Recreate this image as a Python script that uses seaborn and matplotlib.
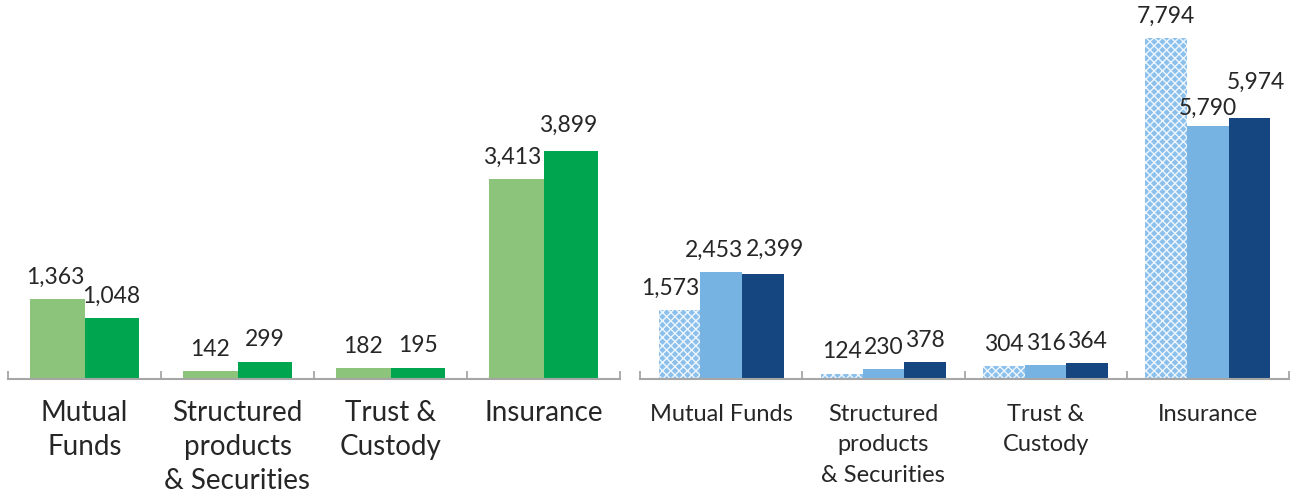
import matplotlib
matplotlib.use("Agg")
import matplotlib.pyplot as plt
import seaborn as sns
import pandas as pd

# ---- data ----
left_categories = ["Mutual\nFunds", "Structured\nproducts\n& Securities", "Trust &\nCustody", "Insurance"]
left_series = ["A", "B"]
left_a = [1363, 142, 182, 3413]
left_b = [1048, 299, 195, 3899]

right_categories = ["Mutual Funds", "Structured\nproducts\n& Securities", "Trust &\nCustody", "Insurance"]
right_series = ["A", "B", "C"]
right_a = [1573, 124, 304, 7794]
right_b = [2453, 230, 316, 5790]
right_c = [2399, 378, 364, 5974]

# label nudges (pixels) to mimic the reference's hand-placed labels
nudges = {
    ("L", 0, 0): (-2, 0), ("L", 0, 3): (-4, 0), ("L", 1, 3): (-3, 4),
    ("R", 0, 0): (-9, 0), ("R", 1, 0): (-7, 0), ("R", 2, 0): (12, 3),
    ("R", 1, 3): (0, -4), ("R", 2, 3): (6, 14),
}

sns.set_theme(style="white")
plt.rcParams['font.family'] = ['Lato', 'DejaVu Sans']
TXT = '#262626'

left_df = pd.DataFrame({
    "cat": left_categories * 2,
    "series": [s for s in left_series for _ in left_categories],
    "value": left_a + left_b,
})
right_df = pd.DataFrame({
    "cat": right_categories * 3,
    "series": [s for s in right_series for _ in right_categories],
    "value": right_a + right_b + right_c,
})

fig = plt.figure(figsize=(12.94, 4.90), dpi=100)
axL = fig.add_axes([8/1294, 111/490, 612/1294, 379/490])
axR = fig.add_axes([640/1294, 111/490, 649/1294, 379/490])

sns.barplot(data=left_df, x="cat", y="value", hue="series", ax=axL,
            palette=["#8dc47b", "#00a54f"], width=0.71, legend=False,
            saturation=1, errorbar=None, linewidth=0)
sns.barplot(data=right_df, x="cat", y="value", hue="series", ax=axR,
            palette=["#8cc0ec", "#76b3e2", "#15467f"], width=0.77, legend=False,
            saturation=1, errorbar=None, linewidth=0)

plt.rcParams['hatch.linewidth'] = 0.8
for p in axR.containers[0]:
    p.set_hatch('xxxx')
    p.set_edgecolor('#eef6fd')
    p.set_linewidth(0)

for key, ax, ymax, fs, pad, ls in [("L", axL, 6481, 20, 15, 1.38),
                                   ("R", axR, 8663, 17, 18, 1.55)]:
    ax.set_ylim(0, ymax)
    ax.set_xlim(-0.5, 3.5)
    ax.set_xlabel("")
    ax.set_ylabel("")
    ax.set_yticks([])
    for s in ["top", "left", "right"]:
        ax.spines[s].set_visible(False)
    ax.spines["bottom"].set_color("#a6a6a6")
    ax.spines["bottom"].set_linewidth(1.5)
    ax.set_xticks([-0.5, 0.5, 1.5, 2.5, 3.5], minor=True)
    ax.tick_params(axis='x', which='minor', direction='in', length=6, width=1.3,
                   color='#a6a6a6', bottom=True)
    ax.tick_params(axis='x', which='major', length=0, pad=pad, labelsize=fs,
                   labelcolor=TXT)
    for lab in ax.get_xticklabels():
        lab.set_verticalalignment('top')
        lab.set_linespacing(ls)
    for si, c in enumerate(ax.containers):
        anns = ax.bar_label(c, labels=[f"{v:,.0f}" for v in c.datavalues],
                            padding=8, fontsize=16.5, color=TXT)
        for ci, a in enumerate(anns):
            dx, dy = nudges.get((key, si, ci), (0, 0))
            a.xyann = (dx * 0.72, 8 + dy * 0.72)
    ax.patch.set_alpha(0)

fig.savefig("out.png", dpi=100)
